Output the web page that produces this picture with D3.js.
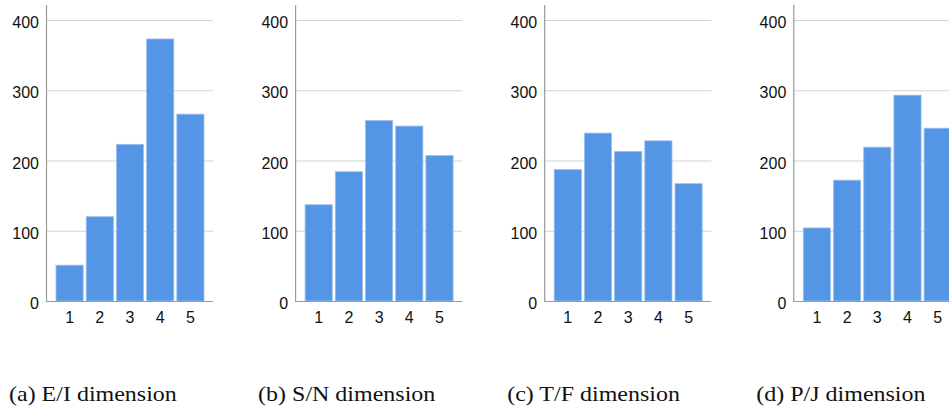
<!DOCTYPE html>
<html lang="en">
<head>
  <meta charset="utf-8">
  <title>MBTI dimension histograms</title>
  <script src="https://d3js.org/d3.v7.min.js" charset="utf-8"></script>
  <style>
    body {
      margin: 0;
      background: #fff;
    }
    .tick-label {
      font-family: "Liberation Sans", Arial, sans-serif;
      font-size: 16px;
      fill: #111;
    }
    .caption {
      font-family: "Liberation Serif", "Times New Roman", serif;
      font-size: 22px;
      fill: #111;
    }
  </style>
</head>
<body>
  <script>
    // values
    var categories = ["1", "2", "3", "4", "5"];
    var yTicks = [0, 100, 200, 300, 400];
    var captions = ["(a) E/I dimension", "(b) S/N dimension", "(c) T/F dimension", "(d) P/J dimension"];

    var eiCounts = [51, 120, 223, 373, 266];
    var snCounts = [137, 184, 257, 249, 207];
    var tfCounts = [187, 239, 213, 228, 167];
    var pjCounts = [104, 172, 219, 293, 246];

    var panels = [eiCounts, snCounts, tfCounts, pjCounts];

    var width = 949;
    var height = 410;

    var svg = d3.select("body")
      .append("svg")
      .attr("width", width)
      .attr("height", height);

    // shared y scale, all four panels use the same 0-400 range
    var y = d3.scaleLinear()
      .domain([0, 400])
      .range([301, 20]);

    panels.forEach(function(values, i) {
      var ox = 46 + 249.1 * i;

      var x = d3.scaleBand()
        .domain(categories)
        .range([ox + 10, ox + 158])
        .paddingInner(0.1)
        .paddingOuter(0);

      var g = svg.append("g");

      // gridlines
      g.selectAll(".grid")
        .data(yTicks.filter(function(d) { return d > 0; }))
        .enter()
        .append("line")
        .attr("x1", ox)
        .attr("x2", ox + 167)
        .attr("y1", function(d) { return y(d) + 0.5; })
        .attr("y2", function(d) { return y(d) + 0.5; })
        .attr("stroke", "#d4d4d4")
        .attr("stroke-width", 1.2);

      // bars
      g.selectAll("rect")
        .data(values)
        .enter()
        .append("rect")
        .attr("x", function(d, j) { return x(categories[j]); })
        .attr("y", function(d) { return y(d); })
        .attr("width", x.bandwidth())
        .attr("height", function(d) { return y(0) - y(d); })
        .attr("fill", "#5595e5")
        .attr("stroke", "#9cc0ef")
        .attr("stroke-width", 0.8);

      // y axis line and baseline
      g.append("line")
        .attr("x1", ox + 0.5).attr("x2", ox + 0.5)
        .attr("y1", 5).attr("y2", y(0) + 0.5)
        .attr("stroke", "#999")
        .attr("stroke-width", 1.2);
      g.append("line")
        .attr("x1", ox).attr("x2", ox + 167)
        .attr("y1", y(0) + 0.5).attr("y2", y(0) + 0.5)
        .attr("stroke", "#999")
        .attr("stroke-width", 1.2);

      // y tick labels
      g.selectAll(".ylab")
        .data(yTicks)
        .enter()
        .append("text")
        .attr("class", "tick-label")
        .attr("x", ox - 7)
        .attr("y", function(d) { return y(d) + 8; })
        .attr("text-anchor", "end")
        .text(function(d) { return d; });

      // x tick labels
      g.selectAll(".xlab")
        .data(categories)
        .enter()
        .append("text")
        .attr("class", "tick-label")
        .attr("x", function(d) { return x(d) + x.bandwidth() / 2; })
        .attr("y", 323)
        .attr("text-anchor", "middle")
        .text(function(d) { return d; });

      // caption under each panel, stretched a bit wider like the source
      var cap = g.append("text")
        .attr("class", "caption")
        .attr("x", ox - 37)
        .attr("y", 401)
        .text(captions[i]);
      var len = cap.node().getComputedTextLength();
      cap.attr("textLength", len * 1.09)
        .attr("lengthAdjust", "spacingAndGlyphs");
    });
  </script>
</body>
</html>
